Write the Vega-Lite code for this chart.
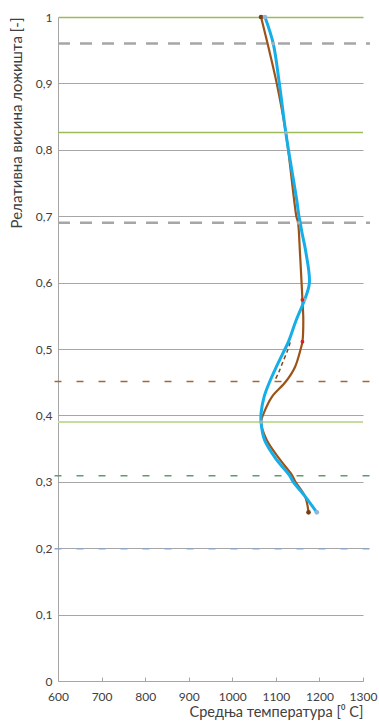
{
  "$schema": "https://vega.github.io/schema/vega-lite/v6.json",
  "width": 305,
  "height": 664,
  "autosize": {"type": "none"},
  "padding": {"left": 58, "top": 17, "right": 16, "bottom": 45},
  "background": "white",
  "config": {
    "view": {"stroke": null},
    "font": "Lato",
    "axis": {"labelFont": "Lato", "titleFont": "Lato", "labelColor": "#404040", "titleColor": "#404040", "titleFontWeight": "normal"}
  },
  "datasets": {
    "hlines": [
      {"name": "top", "h": 1.0},
      {"name": "g96", "h": 0.96},
      {"name": "g825", "h": 0.826},
      {"name": "g69", "h": 0.69},
      {"name": "b45", "h": 0.451},
      {"name": "lg39", "h": 0.39},
      {"name": "gd31", "h": 0.309},
      {"name": "bd20", "h": 0.199}
    ],
    "curves": [
      {"s": "brown", "T": 1066, "h": 1.0},
      {"s": "brown", "T": 1081, "h": 0.96},
      {"s": "brown", "T": 1102, "h": 0.9},
      {"s": "brown", "T": 1123, "h": 0.825},
      {"s": "brown", "T": 1142, "h": 0.724},
      {"s": "brown", "T": 1147, "h": 0.7},
      {"s": "brown", "T": 1151, "h": 0.69},
      {"s": "brown", "T": 1155, "h": 0.649},
      {"s": "brown", "T": 1159, "h": 0.6},
      {"s": "brown", "T": 1161, "h": 0.574},
      {"s": "brown", "T": 1163, "h": 0.544},
      {"s": "brown", "T": 1161, "h": 0.511},
      {"s": "brown", "T": 1157, "h": 0.5},
      {"s": "brown", "T": 1144, "h": 0.473},
      {"s": "brown", "T": 1123, "h": 0.451},
      {"s": "brown", "T": 1091, "h": 0.428},
      {"s": "brown", "T": 1072, "h": 0.403},
      {"s": "brown", "T": 1066, "h": 0.39},
      {"s": "brown", "T": 1079, "h": 0.363},
      {"s": "brown", "T": 1110, "h": 0.333},
      {"s": "brown", "T": 1137, "h": 0.31},
      {"s": "brown", "T": 1145, "h": 0.3},
      {"s": "brown", "T": 1167, "h": 0.278},
      {"s": "brown", "T": 1175, "h": 0.254},
      {"s": "blue", "T": 1075, "h": 1.0},
      {"s": "blue", "T": 1094, "h": 0.96},
      {"s": "blue", "T": 1108, "h": 0.9},
      {"s": "blue", "T": 1123, "h": 0.825},
      {"s": "blue", "T": 1148, "h": 0.724},
      {"s": "blue", "T": 1153, "h": 0.7},
      {"s": "blue", "T": 1156, "h": 0.69},
      {"s": "blue", "T": 1160, "h": 0.675},
      {"s": "blue", "T": 1168, "h": 0.649},
      {"s": "blue", "T": 1177, "h": 0.6},
      {"s": "blue", "T": 1166, "h": 0.574},
      {"s": "blue", "T": 1147, "h": 0.544},
      {"s": "blue", "T": 1129, "h": 0.511},
      {"s": "blue", "T": 1121, "h": 0.5},
      {"s": "blue", "T": 1101, "h": 0.473},
      {"s": "blue", "T": 1086, "h": 0.451},
      {"s": "blue", "T": 1073, "h": 0.428},
      {"s": "blue", "T": 1066, "h": 0.403},
      {"s": "blue", "T": 1066, "h": 0.39},
      {"s": "blue", "T": 1074, "h": 0.363},
      {"s": "blue", "T": 1102, "h": 0.333},
      {"s": "blue", "T": 1131, "h": 0.31},
      {"s": "blue", "T": 1140, "h": 0.3},
      {"s": "blue", "T": 1167, "h": 0.278},
      {"s": "blue", "T": 1194, "h": 0.254},
      {"s": "dash", "T": 1133, "h": 0.51},
      {"s": "dash", "T": 1127, "h": 0.498},
      {"s": "dash", "T": 1117, "h": 0.482},
      {"s": "dash", "T": 1106, "h": 0.464},
      {"s": "dash", "T": 1097, "h": 0.452}
    ],
    "markers": [
      {"kind": "brownEnd", "T": 1066, "h": 1.0},
      {"kind": "brownEnd", "T": 1175, "h": 0.254},
      {"kind": "blueEnd", "T": 1075, "h": 1.0},
      {"kind": "blueEnd", "T": 1194, "h": 0.254},
      {"kind": "red", "T": 1161, "h": 0.574},
      {"kind": "red", "T": 1161, "h": 0.511},
      {"kind": "gray", "T": 1094, "h": 0.96},
      {"kind": "gray", "T": 1123, "h": 0.826},
      {"kind": "gray", "T": 1152, "h": 0.69},
      {"kind": "gray", "T": 1166, "h": 0.574},
      {"kind": "gray", "T": 1066, "h": 0.39}
    ]
  },
  "layer": [
    {
      "data": {"name": "hlines"},
      "transform": [{"filter": "datum.name == 'top'"}],
      "mark": {"type": "rule", "color": "#9bbb59", "strokeWidth": 1.5},
      "encoding": {
        "y": {"field": "h", "type": "quantitative", "scale": {"domain": [0, 1]},
          "axis": {
            "values": [0, 0.1, 0.2, 0.3, 0.4, 0.5, 0.6, 0.7, 0.8, 0.9, 1],
            "format": ".1~f",
            "labelExpr": "replace(datum.label, '.', ',')",
            "ticks": false,
            "grid": true,
            "gridColor": {"condition": {"test": "datum.value == 1", "value": "#9bbb59"}, "value": "#a6a6a6"},
            "gridWidth": {"condition": {"test": "datum.value == 1", "value": 1.5}, "value": 1},
            "domainColor": "#a6a6a6",
            "labelFontSize": 12,
            "labelPadding": 6,
            "title": "Релативна висина ложишта [-]",
            "titleFontSize": 15,
            "titleAnchor": "end",
            "titlePadding": 11
          }
        },
        "x": {"field": "T", "type": "quantitative", "scale": {"domain": [600, 1300]},
          "axis": {
            "values": [600, 650, 700, 750, 800, 850, 900, 950, 1000, 1050, 1100, 1150, 1200, 1250, 1300],
            "format": "d",
            "labelExpr": "datum.value % 100 == 0 ? datum.label : ''",
            "tickSize": -4,
            "tickColor": "#a6a6a6",
            "domainColor": "#a6a6a6",
            "grid": false,
            "labelFontSize": 12,
            "labelPadding": 14,
            "labelFlush": false,
            "labelOverlap": false,
            "title": "Средња температура [⁰ C]",
            "titleFontSize": 14.5,
            "titleAnchor": "end",
            "titlePadding": 3
          }
        }
      }
    },
    {
      "data": {"name": "hlines"},
      "transform": [{"filter": "datum.name == 'g825'"}],
      "mark": {"type": "rule", "color": "#9bbb59", "strokeWidth": 1.5},
      "encoding": {"y": {"field": "h", "type": "quantitative"}}
    },
    {
      "data": {"name": "hlines"},
      "transform": [{"filter": "datum.name == 'lg39'"}],
      "mark": {"type": "rule", "color": "#c4dc9c", "strokeWidth": 2},
      "encoding": {"y": {"field": "h", "type": "quantitative"}}
    },
    {
      "data": {"name": "hlines"},
      "transform": [{"filter": "datum.name == 'g96' || datum.name == 'g69'"}],
      "mark": {"type": "rule", "color": "#a6a6a6", "strokeWidth": 2.5, "strokeDash": [12, 10]},
      "encoding": {"y": {"field": "h", "type": "quantitative"}, "x": {"datum": 600}, "x2": {"datum": 1316}}
    },
    {
      "data": {"name": "hlines"},
      "transform": [{"filter": "datum.name == 'b45'"}],
      "mark": {"type": "rule", "color": "#a0683a", "strokeWidth": 1.5, "strokeDash": [7, 15], "clip": false},
      "encoding": {"y": {"field": "h", "type": "quantitative"}, "x": {"datum": 592}, "x2": {"datum": 1316}}
    },
    {
      "data": {"name": "hlines"},
      "transform": [{"filter": "datum.name == 'gd31'"}],
      "mark": {"type": "rule", "color": "#5e9c74", "strokeWidth": 1.5, "strokeDash": [7, 15], "clip": false},
      "encoding": {"y": {"field": "h", "type": "quantitative"}, "x": {"datum": 592}, "x2": {"datum": 1316}}
    },
    {
      "data": {"name": "hlines"},
      "transform": [{"filter": "datum.name == 'bd20'"}],
      "mark": {"type": "rule", "color": "#8ea6c8", "strokeWidth": 1.5, "strokeDash": [7, 15], "clip": false},
      "encoding": {"y": {"field": "h", "type": "quantitative"}, "x": {"datum": 592}, "x2": {"datum": 1316}}
    },
    {
      "data": {"name": "curves"},
      "transform": [{"filter": "datum.s == 'brown'"}],
      "mark": {"type": "line", "color": "#9c5318", "strokeWidth": 2.2, "interpolate": "catmull-rom"},
      "encoding": {"x": {"field": "T", "type": "quantitative"}, "y": {"field": "h", "type": "quantitative"}, "order": {"field": "h", "sort": "descending"}}
    },
    {
      "data": {"name": "curves"},
      "transform": [{"filter": "datum.s == 'dash'"}],
      "mark": {"type": "line", "color": "#7a4a1e", "strokeWidth": 1.5, "strokeDash": [4, 3], "interpolate": "catmull-rom"},
      "encoding": {"x": {"field": "T", "type": "quantitative"}, "y": {"field": "h", "type": "quantitative"}, "order": {"field": "h", "sort": "descending"}}
    },
    {
      "data": {"name": "curves"},
      "transform": [{"filter": "datum.s == 'blue'"}],
      "mark": {"type": "line", "color": "#16aee8", "strokeWidth": 3, "interpolate": "catmull-rom"},
      "encoding": {"x": {"field": "T", "type": "quantitative"}, "y": {"field": "h", "type": "quantitative"}, "order": {"field": "h", "sort": "descending"}}
    },
    {
      "data": {"name": "markers"},
      "transform": [{"filter": "datum.kind == 'brownEnd'"}],
      "mark": {"type": "point", "filled": true, "color": "#7a3e12", "size": 22, "opacity": 1},
      "encoding": {"x": {"field": "T", "type": "quantitative"}, "y": {"field": "h", "type": "quantitative"}}
    },
    {
      "data": {"name": "markers"},
      "transform": [{"filter": "datum.kind == 'blueEnd'"}],
      "mark": {"type": "point", "filled": true, "color": "#8fb6d6", "size": 22, "opacity": 1},
      "encoding": {"x": {"field": "T", "type": "quantitative"}, "y": {"field": "h", "type": "quantitative"}}
    },
    {
      "data": {"name": "markers"},
      "transform": [{"filter": "datum.kind == 'gray'"}],
      "mark": {"type": "point", "filled": true, "color": "#aab2ba", "size": 14, "opacity": 0.9},
      "encoding": {"x": {"field": "T", "type": "quantitative"}, "y": {"field": "h", "type": "quantitative"}}
    },
    {
      "data": {"name": "markers"},
      "transform": [{"filter": "datum.kind == 'red'"}],
      "mark": {"type": "point", "filled": true, "color": "#e0201c", "size": 14, "opacity": 1},
      "encoding": {"x": {"field": "T", "type": "quantitative"}, "y": {"field": "h", "type": "quantitative"}}
    }
  ]
}
